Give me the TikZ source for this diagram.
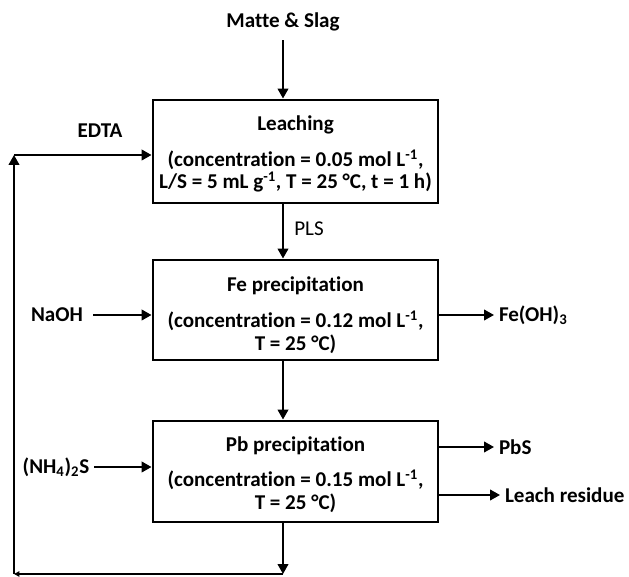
\documentclass[tikz,border=0pt]{standalone}
\usepackage{fontspec}
\setmainfont{Carlito}[Ligatures=NoCommon]
\usetikzlibrary{arrows.meta}

\tikzset{every picture/.style={line width=1.5pt}}
\tikzset{
  procbox/.style={draw, line width=2.2pt, minimum width=213.75pt, inner sep=0pt},
  lbl/.style={font=\fontsize{15.8}{17}\selectfont\bfseries, align=center, inner sep=3pt},
  plain/.style={font=\fontsize{15.8}{17}\selectfont, inner sep=3pt},
  flow/.style={-{Triangle[length=7.5pt,width=8pt]}},
  backtip/.style={-{Triangle[length=4pt,width=4pt]}},
}

\begin{document}
\begin{tikzpicture}[x=0.75pt,y=0.75pt,yscale=-1,xscale=1]
\useasboundingbox (0,0) rectangle (629,577);

% Boxes
\node[procbox, minimum height=77.25pt] (leach) at (295.5,151.5) {};
\node[procbox, minimum height=75pt] (fe) at (295.5,310) {};
\node[procbox, minimum height=75.75pt] (pb) at (295.5,471.5) {};

% Text Node
\node[lbl] (leachtitle) at (295.5,125) {Leaching};
\node[lbl] (leachcond) at (295.5,171) {(concentration = 0.05 mol L\textsuperscript{-1},\\L/S = 5 mL g\textsuperscript{-1}, T = 25 °C, t = 1 h)};
% Text Node
\node[lbl] (fetitle) at (295.5,286) {Fe precipitation};
\node[lbl] (fecond) at (295.5,332) {(concentration = 0.12 mol L\textsuperscript{-1},\\T = 25 °C)};
% Text Node
\node[lbl] (pbtitle) at (295.5,446) {Pb precipitation};
\node[lbl] (pbcond) at (295.5,491) {(concentration = 0.15 mol L\textsuperscript{-1},\\T = 25 °C)};

% Text Node
\node[lbl] (feed) at (283,22) {Matte \& Slag};
\node[lbl] (edta) at (100,131) {EDTA};
\node[lbl] (naoh) at (57,315) {NaOH};
\node[lbl] (nh4s) at (56,467) {(NH\textsubscript{4})\textsubscript{2}S};
\node[lbl, anchor=west] (feoh) at (494,315) {Fe(OH)\textsubscript{3}};
\node[lbl, anchor=west] (pbs) at (494,447) {PbS};
\node[lbl, anchor=west] (resid) at (500,495) {Leach residue};
\node[plain] (pls) at (309,229) {PLS};

\coordinate (loopa) at (283,574);
\coordinate (loopb) at (14,574);
\coordinate (loopc) at (14,155);

%Straight Lines
\draw[flow, shorten <=3pt] (feed) -- (feed |- leach.north);
\draw[flow] (leach.south -| feed) -- (fe.north -| feed);
\draw[flow] (fe.south -| feed) -- (pb.north -| feed);
\draw[flow] (pb.south -| feed) -- (loopa);
\draw[flow, shorten <=4pt] (naoh) -- (naoh -| fe.west);
\draw[flow] (nh4s) -- (nh4s -| pb.west);
\draw[flow] (fe.east |- feoh) -- (feoh);
\draw[flow] (pb.east |- pbs) -- (pbs);
\draw[flow] (pb.east |- resid) -- (resid);

%Recycle line
\draw[backtip] (loopa) -- (loopb);
\draw[flow] (loopb) -- (loopc);
\draw[flow] (loopc) -- (loopc -| leach.west);

\end{tikzpicture}
\end{document}
